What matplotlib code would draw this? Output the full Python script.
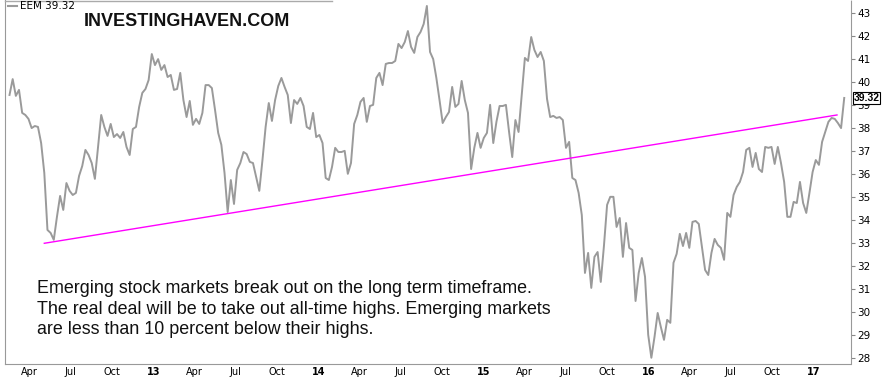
import matplotlib
matplotlib.use('Agg')
import pandas as pd
import matplotlib.pyplot as plt
from matplotlib.lines import Line2D

# weekly EEM closes, first week 2012-02-17
start = '2012-02-17'
eem = [39.45, 40.14, 39.41, 39.67, 38.67, 38.58, 38.41, 38.01, 38.10, 38.06,
       37.36, 36.06, 33.58, 33.45, 33.15, 34.15, 35.06, 34.45, 35.62, 35.28,
       35.10, 35.19, 35.93, 36.36, 37.06, 36.84, 36.49, 35.80, 37.19, 38.58,
       38.06, 37.67, 38.19, 37.62, 37.75, 37.58, 37.84, 37.19, 36.84, 37.97,
       38.06, 38.93, 39.54, 39.71, 40.10, 41.23, 40.75, 41.01, 40.54, 40.75,
       40.23, 40.32, 39.67, 39.71, 40.41, 39.23, 38.49, 39.19, 38.15, 38.41,
       38.19, 38.67, 39.88, 39.88, 39.75, 38.80, 37.80, 37.28, 36.06, 34.36,
       35.75, 34.71, 36.19, 36.49, 36.97, 36.88, 36.54, 36.49, 35.88, 35.28,
       36.62, 38.06, 39.10, 38.32, 39.23, 39.84, 40.19, 39.80, 39.45, 38.23,
       39.23, 39.06, 39.32, 38.97, 38.06, 37.97, 38.67, 37.62, 37.71, 37.36,
       35.84, 35.75, 36.32, 37.15, 36.97, 36.97, 37.02, 36.02, 36.49, 38.19,
       38.58, 39.15, 39.32, 38.28, 38.97, 39.02, 40.19, 40.41, 39.88, 40.80,
       40.84, 40.84, 40.93, 41.67, 41.49, 41.75, 42.23, 41.54, 41.28, 41.97,
       42.19, 42.54, 43.32, 41.32, 41.01, 40.19, 39.23, 38.23, 38.49, 38.71,
       39.80, 38.93, 39.06, 40.06, 39.23, 38.67, 36.23, 37.15, 37.80, 37.15,
       37.58, 37.80, 39.02, 37.36, 38.28, 38.97, 38.97, 39.02, 37.84, 36.75,
       38.36, 37.84, 39.45, 41.06, 40.93, 41.97, 41.41, 41.10, 41.32, 40.93,
       39.28, 38.49, 38.54, 38.45, 38.49, 38.36, 37.15, 37.41, 35.84, 35.75,
       35.19, 34.23, 31.71, 32.58, 31.06, 32.41, 32.62, 31.32, 32.88, 34.67,
       35.02, 35.02, 33.71, 34.10, 32.41, 33.88, 32.80, 32.71, 30.49, 31.71,
       32.36, 31.54, 29.02, 28.02, 28.93, 29.97, 29.36, 28.80, 29.67, 29.54,
       32.15, 32.54, 33.41, 32.88, 33.45, 32.80, 33.93, 33.97, 33.84, 32.84,
       31.84, 31.62, 32.58, 33.19, 32.93, 32.80, 32.28, 34.32, 34.15, 35.10,
       35.45, 35.67, 36.10, 37.06, 37.15, 36.32, 36.93, 36.23, 36.10, 37.19,
       37.15, 37.19, 36.45, 37.19, 36.49, 35.67, 34.15, 34.15, 34.80, 34.75,
       35.67, 34.75, 34.32, 35.19, 36.10, 36.62, 36.41, 37.41, 37.84, 38.28,
       38.45, 38.41, 38.23, 38.01, 39.32]
last = 39.32

trend_dates = ['2012-05-04', '2017-02-22']
trend_vals = [33.0, 38.58]

tick_dates = ['2012-04-01', '2012-07-01', '2012-10-01',
              '2013-01-01', '2013-04-01', '2013-07-01', '2013-10-01',
              '2014-01-01', '2014-04-01', '2014-07-01', '2014-10-01',
              '2015-01-01', '2015-04-01', '2015-07-01', '2015-10-01',
              '2016-01-01', '2016-04-01', '2016-07-01', '2016-10-01',
              '2017-01-01']
tick_labels = ['Apr', 'Jul', 'Oct', '13', 'Apr', 'Jul', 'Oct', '14', 'Apr', 'Jul', 'Oct',
               '15', 'Apr', 'Jul', 'Oct', '16', 'Apr', 'Jul', 'Oct', '17']
yticks = list(range(28, 44))

note = ['Emerging stock markets break out on the long term timeframe.',
        'The real deal will be to take out all-time highs. Emerging markets',
        'are less than 10 percent below their highs.']

W, H = 882, 378
fig = plt.figure(figsize=(W/100., H/100.), dpi=100)
ax = fig.add_axes([5./W, 14./H, 846./W, 364./H])

dates = pd.date_range(start, periods=len(eem), freq='7D')
ax.plot(dates, eem, color='#9a9a9a', linewidth=1.4, zorder=3)
ax.plot(pd.to_datetime(trend_dates), trend_vals, color='#ff00ff', linewidth=1.0, zorder=4)

ax.set_xlim(pd.Timestamp('2012-02-07'), pd.Timestamp('2017-03-25'))
ax.set_ylim(27.75, 43.58)

ax.set_xticks(pd.to_datetime(tick_dates))
ax.set_xticklabels(tick_labels)
for lab in ax.get_xticklabels():
    if lab.get_text().isdigit():
        lab.set_fontweight('bold')
        lab.set_fontsize(8)
ax.set_yticks(yticks)
ax.yaxis.tick_right()
ax.tick_params(axis='y', labelsize=7.5, length=3, color='#888888', pad=1.5)
ax.tick_params(axis='x', labelsize=7, length=0, pad=2)

ax.spines['top'].set_visible(False)
ax.spines['left'].set_color('#999999')
for s in ['right', 'bottom']:
    ax.spines[s].set_color('#999999')
    ax.spines[s].set_linestyle((0, (1, 1)))

# last value tag on the price axis
ax.text(1.003, last, last, transform=ax.get_yaxis_transform(), fontsize=7.5,
        fontweight='bold', family='Liberation Sans', va='center', ha='left',
        zorder=6, clip_on=False,
        bbox=dict(boxstyle='square,pad=0.06', fc='white', ec='black', lw=0.8))

# legend / header
fig.add_artist(Line2D([8./W, 17./W], [1-6./H, 1-6./H], color='#9a9a9a', linewidth=1.5))
fig.add_artist(Line2D([5./W, 332./W], [1-0.8/H, 1-0.8/H], color='#aaaaaa', linewidth=1.0))
fig.text(20./W, 1-6./H, 'EEM %.2f' % last, fontsize=7.5, va='center', ha='left',
         family='DejaVu Sans')
fig.text(187./W, 1-21./H, 'INVESTINGHAVEN.COM', fontsize=13, fontweight='bold',
         va='center', ha='center', family='Liberation Sans', color='#111111')

for i, line in enumerate(note):
    fig.text(37./W, 1-(293.+20.5*i)/H, line, fontsize=12.9, va='baseline', ha='left',
             family='Liberation Sans', color='#111111')

plt.savefig('out.png', dpi=100)
